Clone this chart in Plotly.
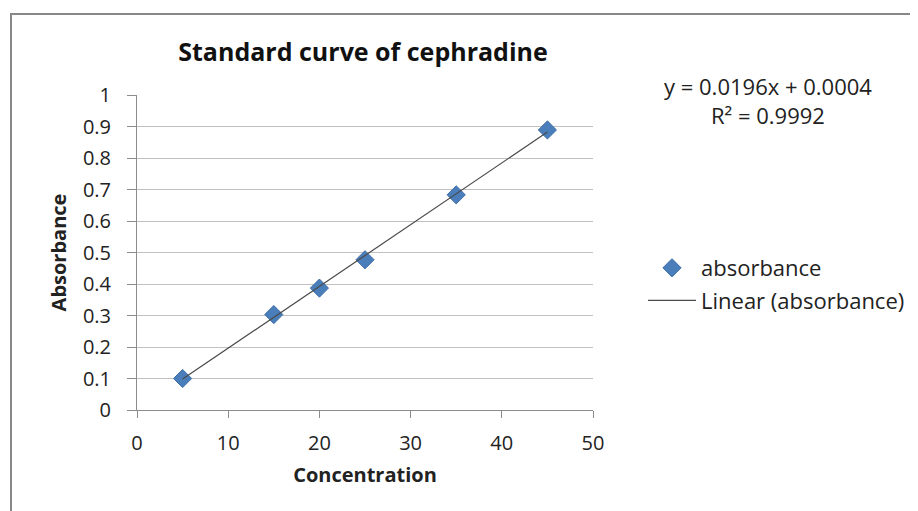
import plotly.graph_objects as go

concentration = [5, 15, 20, 25, 35, 45]
absorbance = [0.100, 0.303, 0.387, 0.477, 0.683, 0.889]
slope = 0.0196
intercept = 0.0004
trend_x = [5, 45]
trend_y = [slope * x + intercept for x in trend_x]

FONT = "Open Sans"
GRAY = "#8c8c8c"
OFF = 8  # page body offset in the browser

fig = go.Figure()
fig.add_trace(go.Scatter(
    x=concentration, y=absorbance, mode="markers", name="absorbance",
    marker=dict(symbol="diamond", size=14, color="#4a7ebb",
                line=dict(color="#3f6ea8", width=1)),
    cliponaxis=False, legendgroup="a",
))
fig.add_trace(go.Scatter(
    x=trend_x, y=trend_y, mode="lines", name="Linear (absorbance)",
    line=dict(color="#4a4a4a", width=1.2), legendgroup="b",
))

fig.update_layout(
    width=918, height=511,
    margin=dict(l=137 - OFF, r=918 - 593 + OFF, t=95 - OFF, b=511 - 410 + OFF),
    paper_bgcolor="white", plot_bgcolor="white",
    font=dict(family=FONT, size=21, color="#222"),
    title=dict(text="<b>Standard curve of cephradine</b>", x=(363 - OFF) / 918, xanchor="center",
               y=1 - (52 - OFF) / 511, yanchor="middle", font=dict(size=25, family=FONT, color="#111")),
    showlegend=True,
    legend=dict(x=(643 - 137) / 456, xanchor="left", y=(410 - 284.5) / 315, yanchor="middle",
                font=dict(size=22, family=FONT, color="#222"),
                bgcolor="rgba(0,0,0,0)", tracegroupgap=1, itemwidth=48),
    xaxis=dict(range=[0, 50], dtick=10, tick0=0, showgrid=False, zeroline=False,
               showline=True, linecolor=GRAY, linewidth=1,
               ticks="outside", ticklen=7, tickcolor=GRAY, ticklabelstandoff=8,
               title=dict(text="<b>Concentration</b>", font=dict(size=20, family=FONT), standoff=12),
               tickfont=dict(size=20)),
    yaxis=dict(range=[0, 1], dtick=0.1, tick0=0, showgrid=True, gridcolor="#c0c0c0", gridwidth=1,
               zeroline=False, showline=True, linecolor=GRAY, linewidth=1,
               ticks="outside", ticklen=9, tickcolor=GRAY, ticklabelstandoff=12,
               title=dict(text="<b>Absorbance</b>", font=dict(size=20, family=FONT), standoff=10),
               tickfont=dict(size=20)),
)

fig.add_annotation(xref="paper", yref="paper", x=(768 - 137) / 456, y=(410 - 100) / 315,
                   text="y = 0.0196x + 0.0004<br>R² = 0.9992", showarrow=False,
                   xanchor="center", yanchor="middle", align="center",
                   font=dict(size=22, family=FONT, color="#222"))

fig.add_shape(type="rect", xref="paper", yref="paper",
              x0=(11 - 137) / 456, x1=(940 - 137) / 456,
              y0=(410 - 540) / 315, y1=(410 - 14) / 315,
              line=dict(color="#888888", width=2), layer="below")

fig.write_html("out.html")
